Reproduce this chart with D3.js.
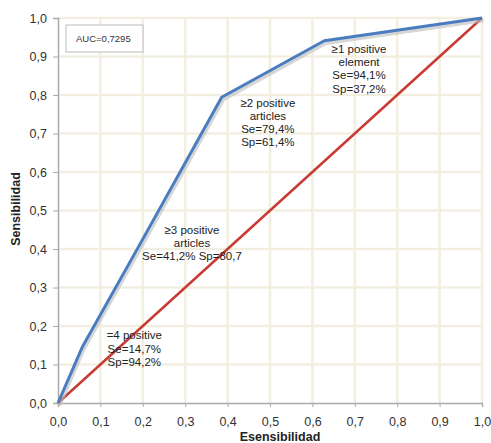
<!DOCTYPE html>
<html>
<head>
<meta charset="utf-8">
<style>
    body { margin: 0; background: #fff; }
    svg { display: block; font-family: "Liberation Sans", Arial, Helvetica, sans-serif; }
    .tick-label { font-size: 12.5px; fill: #333; }
    .note { font-size: 11.5px; fill: #222; text-anchor: middle; }
    .axis-title { font-size: 12.5px; font-weight: bold; fill: #222; }
</style>
</head>
<body>
<svg width="491" height="443"></svg>

<script src="https://d3js.org/d3.v7.min.js"></script>
<script>
    // ROC points: 1 - specificity vs sensitivity
    let fpr = [0, 0.058, 0.193, 0.386, 0.628, 1]
    let tpr = [0, 0.147, 0.412, 0.794, 0.941, 1]
    let refLine = [0, 1]
    let ticks = [0, 0.1, 0.2, 0.3, 0.4, 0.5, 0.6, 0.7, 0.8, 0.9, 1]
    let aucLabel = "AUC=0,7295"

    // annotation text near each cut point
    let noteAt = [[0.18, 0.165], [0.316, 0.44], [0.495, 0.77], [0.71, 0.91]]
    let noteLines = [
        ["=4 positive", "Se=14,7%", "Sp=94,2%"],
        ["≥3 positive", "articles", "Se=41,2% Sp=80,7"],
        ["≥2 positive", "articles", "Se=79,4%", "Sp=61,4%"],
        ["≥1 positive", "element", "Se=94,1%", "Sp=37,2%"]
    ]

    let svg = d3.select("svg")
    let fmt = d => d3.format(".1f")(d).replace(".", ",")

    let x = d3.scaleLinear().domain([0, 1]).range([58, 482])
    let y = d3.scaleLinear().domain([0, 1]).range([403, 18])

    // grid
    svg.append("g")
        .selectAll("line")
        .data(ticks.slice(1))
        .join("line")
        .attr("x1", d => x(d)).attr("x2", d => x(d))
        .attr("y1", y(0)).attr("y2", y(1))
        .style("stroke", "#f3efe0")
        .style("stroke-width", 2.5)
    svg.append("g")
        .selectAll("line")
        .data(ticks.slice(1))
        .join("line")
        .attr("x1", x(0)).attr("x2", x(1))
        .attr("y1", d => y(d)).attr("y2", d => y(d))
        .style("stroke", "#f3efe0")
        .style("stroke-width", 2.5)

    // axes
    let xAxis = svg.append("g")
        .attr("transform", "translate(0," + y(0) + ")")
        .call(d3.axisBottom(x).tickValues(ticks).tickFormat(fmt).tickSize(4).tickPadding(10))
    let yAxis = svg.append("g")
        .attr("transform", "translate(" + x(0) + ",0)")
        .call(d3.axisLeft(y).tickValues(ticks).tickFormat(fmt).tickSize(5).tickPadding(6))

    for (let ax of [xAxis, yAxis]) {
        ax.select(".domain").style("stroke", "#aaa").style("stroke-width", 1.5)
        ax.selectAll(".tick line").style("stroke", "#aaa")
        ax.selectAll(".tick text").attr("class", "tick-label")
        ax.attr("font-family", null).attr("font-size", null)
    }

    // diagonal reference
    svg.append("line")
        .attr("x1", x(refLine[0])).attr("y1", y(refLine[0]))
        .attr("x2", x(refLine[1])).attr("y2", y(refLine[1]))
        .style("stroke", "#c93a35")
        .style("stroke-width", 2.5)

    let line = d3.line()
        .x((d, i) => x(fpr[i]))
        .y(d => y(d))

    // soft shadow under the ROC curve
    svg.append("path")
        .datum(tpr)
        .attr("d", line)
        .attr("transform", "translate(1.5,2.5)")
        .style("fill", "none")
        .style("stroke", "#bbb")
        .style("stroke-opacity", 0.6)
        .style("stroke-width", 3.5)

    svg.append("path")
        .datum(tpr)
        .attr("d", line)
        .style("fill", "none")
        .style("stroke", "#4a7dc0")
        .style("stroke-width", 3)
        .style("stroke-linejoin", "round")

    // AUC box
    svg.append("rect")
        .attr("x", 66).attr("y", 25)
        .attr("width", 77).attr("height", 27)
        .style("fill", "#fff")
        .style("stroke", "#bbb")
        .style("stroke-width", 1)
    svg.append("text")
        .attr("x", 76).attr("y", 42)
        .style("font-size", "9.5px")
        .style("fill", "#333")
        .text(aucLabel)

    // annotations
    noteLines.forEach((lines, k) => {
        let t = svg.append("text")
            .attr("class", "note")
            .attr("x", x(noteAt[k][0]))
            .attr("y", y(noteAt[k][1]))
        t.selectAll("tspan")
            .data(lines)
            .join("tspan")
            .attr("x", x(noteAt[k][0]))
            .attr("dy", (d, i) => i == 0 ? 0 : 13.3)
            .text(d => d)
    })

    // axis titles
    svg.append("text")
        .attr("class", "axis-title")
        .attr("transform", "translate(20,209) rotate(-90)")
        .attr("text-anchor", "middle")
        .text("Sensibilidad")
    svg.append("text")
        .attr("class", "axis-title")
        .attr("x", 280).attr("y", 441)
        .attr("text-anchor", "middle")
        .text("Esensibilidad")
</script>
</body>
</html>
